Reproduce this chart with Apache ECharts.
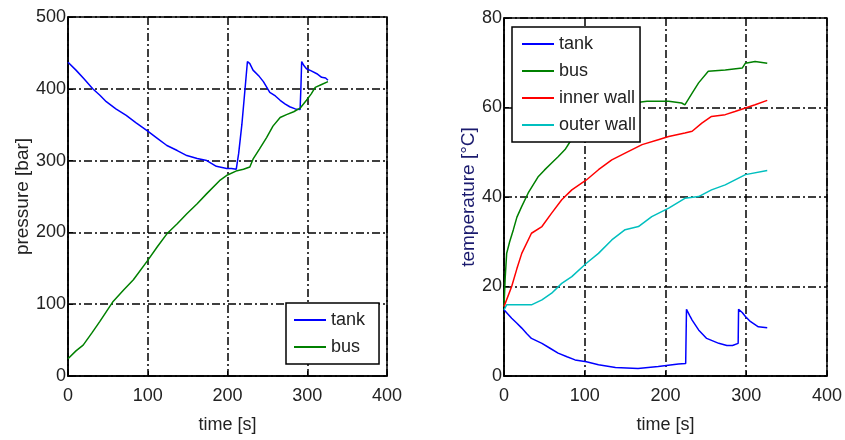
<!DOCTYPE html>
<html>
<head>
<meta charset="utf-8">
<title>pressure and temperature</title>
<script src="https://cdn.jsdelivr.net/npm/echarts@6/dist/echarts.min.js"></script>
<style>
  html, body { margin: 0; padding: 0; background: #fff; }
  #main { width: 845px; height: 440px; }
</style>
</head>
<body>
<div id="main"></div>
<script>
// left plot: pressure [bar]
var pTankT = [0, 10, 20, 31, 40, 48, 60, 73, 85, 100, 112, 124, 137, 149, 162, 174, 186, 199, 205, 211, 214, 218, 222, 225, 228, 232, 240, 245, 253, 260, 266, 272, 278, 285, 291, 292, 293, 296, 299, 305, 312, 318, 323, 326];
var pTank  = [437, 426, 414, 400, 391, 382, 372, 363, 353, 341, 331, 321, 314, 307, 303, 300, 292, 289, 289, 288, 310, 350, 400, 438, 435, 426, 417, 410, 395, 390, 384, 379, 375, 372, 371, 400, 438, 432, 428, 425, 421, 416, 415, 412];
var pBusT  = [0, 10, 19, 30, 40, 56, 70, 82, 100, 112, 124, 137, 149, 162, 174, 190, 200, 212, 220, 228, 232, 240, 249, 257, 266, 274, 283, 291, 299, 305, 310, 318, 326];
var pBus   = [24, 35, 43, 60, 76, 103, 120, 134, 161, 180, 198, 212, 226, 240, 254, 272, 280, 286, 288, 291, 302, 316, 332, 348, 360, 364, 368, 373, 384, 393, 402, 406, 410];

// right plot: temperature [°C]
var tTankT = [0, 5, 9.5, 16, 22, 28, 34, 47, 57, 67, 78, 88, 102, 117, 138, 166, 191, 216, 225, 226, 230, 233, 241, 251, 266, 276, 283, 290, 290.5, 295, 299, 305, 315, 326];
var tTank  = [14.8, 13.8, 12.9, 11.8, 10.7, 9.5, 8.4, 7.3, 6.2, 5.1, 4.3, 3.6, 3.2, 2.5, 1.9, 1.7, 2.1, 2.7, 2.8, 14.9, 13.5, 12.5, 10.3, 8.4, 7.3, 6.8, 6.8, 7.3, 14.9, 14.2, 13.3, 12.2, 11, 10.8];
var tBusT  = [0, 1.5, 3.3, 7, 11.6, 16, 22, 30, 42.6, 50, 59, 67, 75.6, 82, 100, 120, 140, 160, 177, 204, 220, 224, 233, 241, 253, 274, 295, 299, 311, 326];
var tBus   = [15.5, 22, 27.4, 30, 32.7, 35.5, 37.9, 40.9, 44.6, 46, 47.6, 49, 50.6, 52.4, 55.5, 58, 59.8, 61, 61.4, 61.4, 61, 60.6, 63.2, 65.5, 68.1, 68.4, 68.8, 69.9, 70.3, 69.9];
var tInnerT = [0, 9.5, 16, 22, 34, 47, 59, 71.5, 84, 102, 117, 133.5, 150, 171, 191, 204, 224, 233, 245, 257, 274, 286, 299, 311, 326];
var tInner  = [15.5, 20, 24, 27.4, 31.9, 33.4, 36.4, 39.4, 41.6, 43.8, 46.1, 48.3, 49.8, 51.7, 52.8, 53.5, 54.3, 54.7, 56.5, 58, 58.4, 59.1, 59.9, 60.6, 61.6];
var tOuterT = [0, 3.3, 34, 47, 59, 71.5, 84, 102, 117, 133.5, 150, 166.5, 183, 204, 224, 241, 257, 274, 299, 326];
var tOuter  = [14.8, 15.9, 15.9, 17, 18.5, 20.7, 22.2, 25.2, 27.4, 30.4, 32.7, 33.4, 35.6, 37.5, 39.7, 40.1, 41.6, 42.7, 45, 45.9];

var xTicks = [0, 100, 200, 300, 400];

function zip(a, b) {
  var out = [];
  for (var i = 0; i < a.length; i++) out.push([a[i], b[i]]);
  return out;
}

var FONT = 'Liberation Sans';
var grid = { color: '#000', width: 1.5, type: [8, 3, 2, 3] };

function xAx(gi) {
  return {
    type: 'value', gridIndex: gi, min: 0, max: 400, interval: 100,
    name: 'time [s]', nameLocation: 'middle', nameGap: 40,
    nameTextStyle: { fontFamily: FONT, fontSize: 18, color: '#222' },
    axisLine: { lineStyle: { color: '#000', width: 1.5 } },
    axisTick: { inside: true, length: 5, lineStyle: { color: '#000' } },
    axisLabel: { fontFamily: FONT, fontSize: 18, color: '#222', margin: 11,
      formatter: function (v) { return xTicks.indexOf(v) >= 0 ? String(v) : ''; } },
    splitLine: { show: true, lineStyle: grid }
  };
}

function yAx(gi, max, step, name, gap, nameColor) {
  return {
    type: 'value', gridIndex: gi, min: 0, max: max, interval: step,
    name: name, nameLocation: 'middle', nameGap: gap,
    nameTextStyle: { fontFamily: FONT, fontSize: 19, color: nameColor },
    axisLine: { lineStyle: { color: '#000', width: 1.5 } },
    axisTick: { inside: true, length: 5, lineStyle: { color: '#000' } },
    axisLabel: { fontFamily: FONT, fontSize: 18, color: '#222', margin: 2 },
    splitLine: { show: true, lineStyle: grid }
  };
}

function line(name, xi, data, color) {
  return {
    name: name, type: 'line', xAxisIndex: xi, yAxisIndex: xi,
    data: data, symbol: 'none', color: color,
    lineStyle: { color: color, width: 1.5 }
  };
}

var legendBase = {
  orient: 'vertical', icon: 'rect', itemWidth: 32, itemHeight: 2, itemGap: 9,
  backgroundColor: '#fff', borderColor: '#000', borderWidth: 1.5,
  textStyle: { fontFamily: FONT, fontSize: 18, color: '#222' }
};

var chart = echarts.init(document.getElementById('main'));
chart.setOption({
  animation: false,
  backgroundColor: '#fff',
  grid: [
    { left: 68, top: 17, width: 319, height: 359, show: true, borderColor: '#000', borderWidth: 1.5 },
    { left: 504, top: 18, width: 323, height: 358, show: true, borderColor: '#000', borderWidth: 1.5 }
  ],
  xAxis: [xAx(0), xAx(1)],
  yAxis: [
    yAx(0, 500, 100, 'pressure [bar]', 36, '#222'),
    yAx(1, 80, 20, 'temperature [°C]', 24, '#1a1a6e')
  ],
  legend: [
    Object.assign({}, legendBase, {
      left: 286, top: 303, padding: [8, 14, 8, 8],
      data: ['tank', 'bus']
    }),
    Object.assign({}, legendBase, {
      left: 512, top: 27, padding: [8, 4, 8, 10],
      data: ['tank', 'bus', 'inner wall', 'outer wall']
    })
  ],
  series: [
    line('tank', 0, zip(pTankT, pTank), '#0000ff'),
    line('bus', 0, zip(pBusT, pBus), '#008000'),
    line('tank', 1, zip(tTankT, tTank), '#0000ff'),
    line('bus', 1, zip(tBusT, tBus), '#008000'),
    line('inner wall', 1, zip(tInnerT, tInner), '#ff0000'),
    line('outer wall', 1, zip(tOuterT, tOuter), '#00bfbf')
  ]
});
</script>
</body>
</html>
